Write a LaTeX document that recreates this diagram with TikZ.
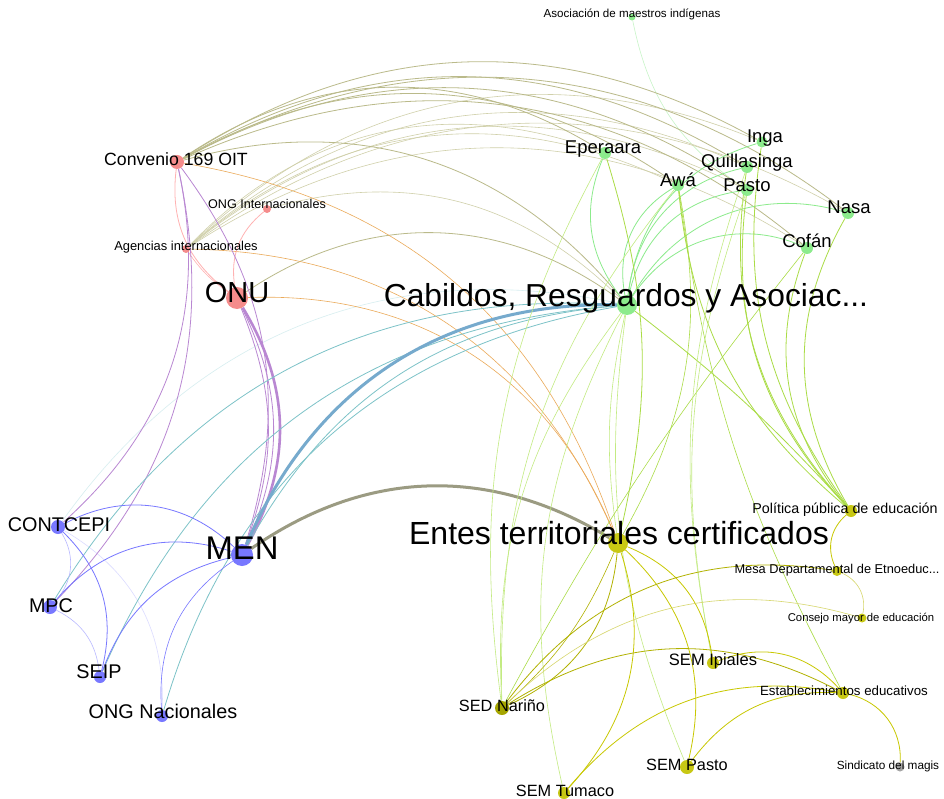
\documentclass[tikz,border=0pt]{standalone}
\usepackage{fontspec}
\setmainfont{Liberation Sans}
\pgfdeclarelayer{bg}
\pgfdeclarelayer{edges}
\pgfsetlayers{bg,edges,main}
\definecolor{pinkN}{RGB}{245,140,140}
\definecolor{greenN}{RGB}{140,235,140}
\definecolor{blueN}{RGB}{120,120,255}
\definecolor{yellowN}{RGB}{200,200,20}
\definecolor{darkyN}{RGB}{165,165,0}
\definecolor{grayN}{RGB}{165,165,165}
\definecolor{olE}{RGB}{186,186,138}
\definecolor{olL}{RGB}{208,208,170}
\definecolor{orE}{RGB}{235,170,90}
\definecolor{puE}{RGB}{185,135,210}
\definecolor{pkE}{RGB}{255,178,178}
\definecolor{teE}{RGB}{125,195,200}
\definecolor{teL}{RGB}{215,238,240}
\definecolor{teB}{RGB}{118,170,205}
\definecolor{blE}{RGB}{120,120,255}
\definecolor{blL}{RGB}{185,185,255}
\definecolor{blF}{RGB}{220,220,255}
\definecolor{grE}{RGB}{155,155,130}
\definecolor{ggE}{RGB}{140,235,140}
\definecolor{ggL}{RGB}{200,245,200}
\definecolor{ygE}{RGB}{170,220,70}
\definecolor{ygL}{RGB}{195,235,130}
\definecolor{yeE}{RGB}{200,200,0}
\definecolor{yeD}{RGB}{178,178,0}
\definecolor{yeL}{RGB}{215,215,110}
\begin{document}
\begin{tikzpicture}[x=1pt,y=1pt,
  dot/.style={circle, inner sep=0pt, draw=none, minimum size=#1},
  lab/.style={anchor=base, inner sep=0pt, text=black},
  fs/.style={font=\fontsize{#1}{#1}\selectfont},
  e/.style={line width=0.8pt},
  el/.style={line width=0.6pt}]
\begin{pgfonlayer}{bg}
\fill[white] (0,0) rectangle (944,-799);
\end{pgfonlayer}
\useasboundingbox (0,0) rectangle (944,-799);

% ---------- dots ----------
\node[dot=7pt, fill=greenN] (asoc) at (632,-17) {};
\node[dot=14pt, fill=pinkN] (conv) at (177,-162) {};
\node[dot=8pt, fill=pinkN] (ongi) at (267,-209) {};
\node[dot=8pt, fill=pinkN] (agen) at (186,-249) {};
\node[dot=22pt, fill=pinkN] (onu) at (237,-298) {};
\node[dot=20pt, fill=greenN] (cab) at (627,-305) {};
\node[dot=12pt, fill=greenN] (epe) at (605,-153) {};
\node[dot=11pt, fill=greenN] (inga) at (762,-142) {};
\node[dot=12pt, fill=greenN] (qui) at (747,-167) {};
\node[dot=12pt, fill=greenN] (awa) at (678,-185) {};
\node[dot=12pt, fill=greenN] (pasto) at (747,-190) {};
\node[dot=12pt, fill=greenN] (nasa) at (848,-213) {};
\node[dot=12pt, fill=greenN] (cofan) at (807,-248) {};
\node[dot=22pt, fill=blueN] (men) at (242,-555) {};
\node[dot=14pt, fill=blueN] (cont) at (58,-527) {};
\node[dot=14pt, fill=blueN] (mpc) at (50,-607) {};
\node[dot=12pt, fill=blueN] (seip) at (100,-677) {};
\node[dot=12pt, fill=blueN] (ongn) at (162,-716) {};
\node[dot=20pt, fill=yellowN] (entes) at (618,-543) {};
\node[dot=12pt, fill=yellowN] (pol) at (851,-511) {};
\node[dot=10pt, fill=yellowN] (mesa) at (837,-571) {};
\node[dot=9pt, fill=yellowN] (cons) at (862,-618) {};
\node[dot=12pt, fill=yellowN] (semi) at (713,-663) {};
\node[dot=12pt, fill=yellowN] (est) at (843,-693) {};
\node[dot=14pt, fill=darkyN] (sed) at (502,-708) {};
\node[dot=14pt, fill=yellowN] (semp) at (687,-767) {};
\node[dot=12pt, fill=yellowN] (semt) at (564,-793) {};
\node[dot=9pt, fill=grayN] (sind) at (900,-767) {};

% ---------- edges ----------
\begin{pgfonlayer}{edges}
% light / faint
\draw[teL, el] (cont) to[bend left=33] (cab);
\draw[blF, el] (cont) to[bend left=31] (ongn);
\draw[ggL, el] (asoc) to[bend right=22] (pasto);
% olive from Agencias
\foreach \t in {epe,awa,inga,qui,pasto,nasa,cofan}
  \draw[olL, el] (agen) to[bend left=33] (\t);
\draw[olL, el] (ongi) to[bend left=30] (cab);
% olive from Convenio
\foreach \t/\b in {epe/33,awa/32,inga/31,qui/31,pasto/31,nasa/33,cofan/32}
  \draw[olE, e] (conv) to[bend left=\b] (\t);
\draw[olE, e] (conv) to[bend left=33] (cab);
\draw[olE, e] (onu) to[bend left=35] (cab);
% orange
\draw[orE, el] (conv) to[bend left=31] (entes);
\draw[orE, el] (agen) to[bend left=33] (entes);
\draw[orE, el] (onu) to[bend left=35] (entes);
% pink
\draw[pkE, e] (conv) to[bend right=30] (onu);
\draw[pkE, e] (ongi) to[bend right=30] (onu);
\draw[pkE, el] (agen) to[bend right=10] (onu);
% purple
\draw[puE, e] (conv) to[bend left=30] (cont);
\draw[puE, e] (conv) to[bend left=28] (mpc);
\draw[puE, e] (conv) to[bend left=27] (men);
\draw[puE, e] (onu) to[bend left=25] (men);
\draw[puE, e] (onu) to[bend left=21] (men);
\draw[puE, line width=2.6pt] (onu) to[bend left=30] (men);
% teal
\draw[teE, e] (mpc) to[bend left=31] (cab);
\draw[teE, e] (seip) to[bend left=31] (cab);
\draw[teE, e] (ongn) to[bend left=32] (cab);
\draw[teE, e] (men) to[bend left=28] (cab);
\draw[teB, line width=3pt] (men) to[bend left=34] (cab);
% blue
\draw[blL, el] (cont) to[bend left=37] (mpc);
\draw[blL, el] (mpc) to[bend left=28] (seip);
\draw[blE, e] (cont) to[bend left=30] (seip);
\draw[blE, e] (cont) to[bend left=36] (men);
\draw[blE, e] (mpc) to[bend left=34] (men);
\draw[blE, e] (seip) to[bend left=28] (men);
\draw[blE, el] (ongn) to[bend left=30] (men);
% gray
\draw[grE, line width=3pt] (men) to[bend left=33] (entes);
% green-green
\draw[ggE, e] (cab) to[bend left=30] (epe);
\draw[ggE, e] (cab) to[bend left=35] (awa);
\draw[ggE, e] (cab) to[bend left=35] (qui);
\draw[ggE, e] (cab) to[bend left=33] (inga);
\draw[ggE, e] (cab) to[bend left=35] (pasto);
\draw[ggE, e] (cab) to[bend left=38] (nasa);
\draw[ggE, e] (cab) to[bend left=40] (cofan);
% yellow-green
\draw[ygE, e] (pol) to[bend left=30] (nasa);
\draw[ygE, e] (pol) to[bend left=30] (cofan);
\draw[ygE, e] (pol) to[bend left=25] (pasto);
\draw[ygE, e] (pol) to[bend left=25] (qui);
\draw[ygE, e] (pol) to[bend left=22] (inga);
\draw[ygE, e] (pol) to[bend left=22] (awa);
\draw[ygE, e] (cab) to[bend left=5] (pol);
\draw[ygE, el] (est) to[bend left=10] (awa);
\draw[ygL, el] (entes) to[bend left=10] (cab);
\draw[ygE, el] (awa) to[bend left=20] (entes);
\draw[ygE, e] (epe) to[bend left=15] (entes);
\draw[ygL, el] (sed) to[bend left=20] (cab);
\draw[ygL, el] (sed) to[bend left=18] (epe);
\draw[ygL, el] (sed) to[bend left=20] (awa);
\draw[ygE, el] (sed) to[bend left=5] (cofan);
\draw[ygL, el] (semt) to[bend left=20] (cab);
\draw[ygL, el] (semp) to[bend left=15] (cab);
\draw[ygL, el] (semi) to[bend left=15] (pasto);
\draw[ygL, el] (semi) to[bend left=15] (qui);
% yellow
\draw[yeD, e] (entes) to[bend left=30] (sed);
\draw[yeD, el] (entes) to[bend left=12] (sed);
\draw[yeE, e] (entes) to[bend left=30] (semt);
\draw[yeE, e] (entes) to[bend left=30] (semp);
\draw[yeE, e] (entes) to[bend left=30] (semi);
\draw[yeE, e] (mesa) to[bend left=37] (pol);
\draw[yeL, el] (mesa) to[bend left=39] (cons);
\draw[yeD, e] (sed) to[bend left=31] (mesa);
\draw[yeL, el] (sed) to[bend left=30] (cons);
\draw[yeD, e] (sed) to[bend left=30] (est);
\draw[yeE, e] (semi) to[bend left=35] (est);
\draw[yeE, e] (semt) to[bend left=30] (est);
\draw[yeE, e] (semp) to[bend left=28] (est);
\draw[yeE, e] (est) to[bend left=40] (sind);
\end{pgfonlayer}

% ---------- labels ----------
\node[lab, fs=11.6] (asoc-l) at (632,-18) {Asociación de maestros indígenas};
\node[lab, fs=17.7] (conv-l) at (176,-166) {Convenio 169 OIT};
\node[lab, fs=12.6] (ongi-l) at (267,-209) {ONG Internacionales};
\node[lab, fs=12.9] (agen-l) at (186,-251) {Agencias internacionales};
\node[lab, fs=29] (onu-l) at (237,-302) {ONU};
\node[lab, fs=31.8] (cab-l) at (626,-306) {Cabildos, Resguardos y Asociac...};
\node[lab, fs=18.5] (epe-l) at (603,-154) {Eperaara};
\node[lab, fs=18.5] (inga-l) at (765,-143) {Inga};
\node[lab, fs=18.5] (qui-l) at (747,-168) {Quillasinga};
\node[lab, fs=18.5] (awa-l) at (678,-187) {Awá};
\node[lab, fs=18.5] (pasto-l) at (747,-192) {Pasto};
\node[lab, fs=18.5] (nasa-l) at (849,-214) {Nasa};
\node[lab, fs=18.5] (cofan-l) at (807,-248) {Cofán};
\node[lab, fs=32.8] (men-l) at (242,-559) {MEN};
\node[lab, fs=19.8] (cont-l) at (59,-531) {CONTCEPI};
\node[lab, fs=19.8] (mpc-l) at (51,-612) {MPC};
\node[lab, fs=19.8] (seip-l) at (99,-678) {SEIP};
\node[lab, fs=19.8] (ongn-l) at (163,-718) {ONG Nacionales};
\node[lab, fs=32] (entes-l) at (619,-544) {Entes territoriales certificados};
\node[lab, fs=14.3] (pol-l) at (845,-513) {Política pública de educación};
\node[lab, fs=12.8] (mesa-l) at (837,-573) {Mesa Departamental de Etnoeduc...};
\node[lab, fs=11.3] (cons-l) at (861,-621) {Consejo mayor de educación};
\node[lab, fs=16.5] (semi-l) at (713,-665) {SEM Ipiales};
\node[lab, fs=13.3] (est-l) at (844,-695) {Establecimientos educativos};
\node[lab, fs=16.3] (sed-l) at (502,-711) {SED Nariño};
\node[lab, fs=16.3] (semp-l) at (687,-770) {SEM Pasto};
\node[lab, fs=16.3] (semt-l) at (565,-796) {SEM Tumaco};
\node[lab, fs=11.8] (sind-l) at (888,-769) {Sindicato del magis};
\end{tikzpicture}
\end{document}
